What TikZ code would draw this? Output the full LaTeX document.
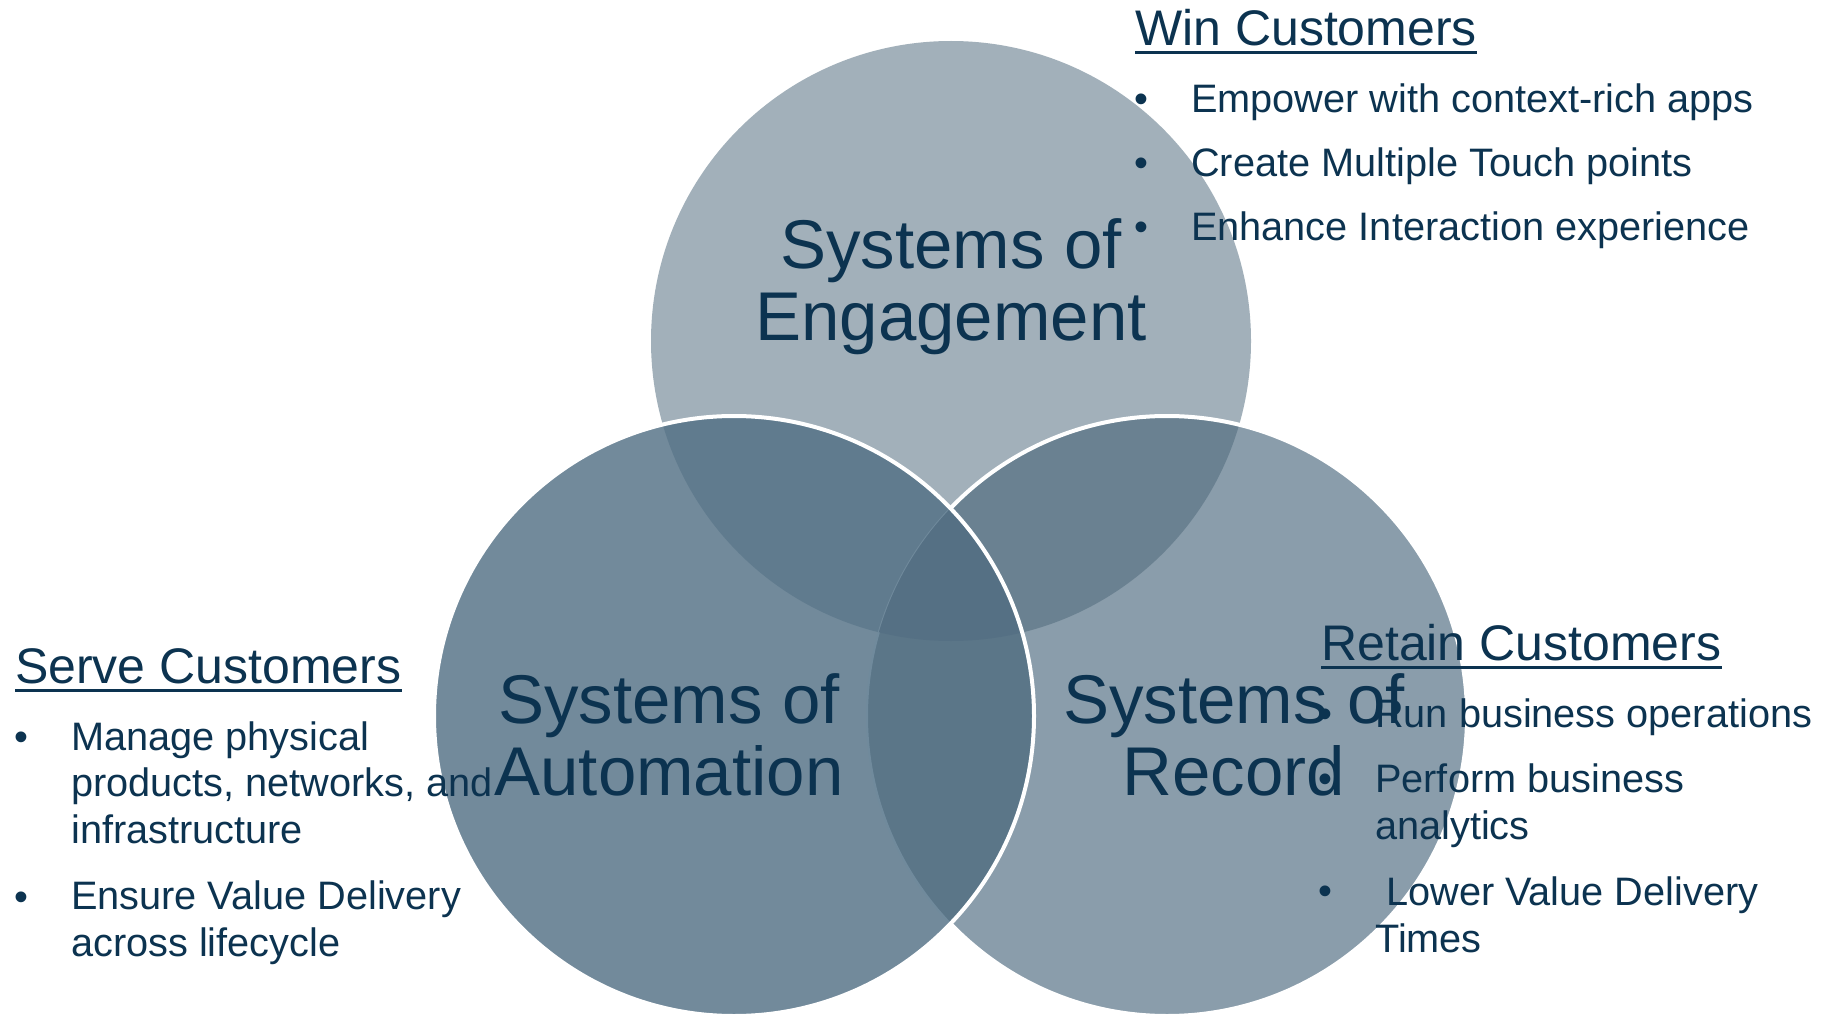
\documentclass[tikz,border=0pt]{standalone}
\usepackage{fontspec}
\setmainfont{Liberation Sans}

\definecolor{ink}{RGB}{12,51,80}
\definecolor{engage}{RGB}{162,176,186}
\definecolor{autom}{RGB}{114,138,155}
\definecolor{record}{RGB}{138,157,171}
\definecolor{engauto}{RGB}{96,123,142}
\definecolor{engrec}{RGB}{106,129,145}
\definecolor{autorec}{RGB}{91,118,136}
\definecolor{allthree}{RGB}{85,112,132}
\definecolor{seam}{RGB}{112,138,156}

\tikzset{
  sys/.style={font=\fontsize{69}{72}\selectfont, text=ink, align=center,
              inner sep=0pt, anchor=base},
  head/.style={font=\fontsize{50}{56}\selectfont, text=ink, inner sep=0pt,
               anchor=base west},
  item/.style={font=\fontsize{39.7}{46.5}\selectfont, text=ink, inner sep=0pt,
               anchor=base west, align=left},
  bulletdot/.style={font=\fontsize{39.7}{46.5}\selectfont, text=ink,
                    inner sep=0pt, anchor=base},
  rim/.style={draw=white, line width=4pt},
  uline/.style={draw=ink, line width=3pt}
}

\begin{document}
\begin{tikzpicture}[x=1pt,y=-1pt]
    \fill[white] (0,0) rectangle (1824,1014);
    \useasboundingbox (0,0) rectangle (1824,1014);

    % the three circles
    \coordinate (E) at (951,341);
    \coordinate (A) at (734,716);
    \coordinate (R) at (1167,716);
    \def\rad{300}

    \fill[engage] (E) circle (\rad);
    \fill[record] (R) circle (\rad);
    \begin{scope}
    \clip (E) circle (\rad);
    \fill[engrec] (R) circle (\rad);
    \end{scope}
    \draw[rim] (R) circle (\rad);

    \fill[autom] (A) circle (\rad);
    \begin{scope}
    \clip (A) circle (\rad);
    \fill[engauto] (E) circle (\rad);
    \fill[autorec] (R) circle (\rad);
    \draw[seam, line width=2pt] (R) circle (\rad);
    \clip (E) circle (\rad);
    \fill[allthree] (R) circle (\rad);
    \end{scope}
    \draw[rim] (A) circle (\rad);

    \node[sys] (engagement) at (951,340) {Systems of\\Engagement};
    \node[sys] (automation) at (669,795) {Systems of\\Automation};
    \node[sys] (record) at (1234,795) {Systems of\\Record};

    % win
    \node[head] (win) at (1135,46) {Win Customers};
    \draw[uline] ([yshift=-7pt]win.base west) -- ([yshift=-7pt]win.base east);
    \foreach \y/\t [count=\i] in {113/Empower with context-rich apps,
                                  176/Create Multiple Touch points,
                                  240/Enhance Interaction experience} {
      \node[bulletdot] (win-dot-\i) at (1141,\y) {•};
      \node[item] (win-item-\i) at (1191,\y) {\t};
    }

    % serve
    \node[head] (serve) at (15,683) {Serve Customers};
    \draw[uline] ([yshift=-7pt]serve.base west) -- ([yshift=-7pt]serve.base east);
    \node[bulletdot] (serve-dot-1) at (21,750) {•};
    \node[item] (serve-item-1) at (71,843)
      {Manage physical\\products, networks, and\\infrastructure};
    \node[bulletdot] (serve-dot-2) at (21,910) {•};
    \node[item] (serve-item-2) at (71,956) {Ensure Value Delivery\\across lifecycle};

    % retain
    \node[head] (retain) at (1321,660) {Retain Customers};
    \draw[uline] ([yshift=-7pt]retain.base west) -- ([yshift=-7pt]retain.base east);
    \node[bulletdot] (retain-dot-1) at (1325,727) {•};
    \node[item] (retain-item-1) at (1375,727) {Run business operations};
    \node[bulletdot] (retain-dot-2) at (1325,792) {•};
    \node[item] (retain-item-2) at (1375,839) {Perform business\\analytics};
    \node[bulletdot] (retain-dot-3) at (1325,904) {•};
    \node[item] (retain-item-3) at (1375,952) {\ Lower Value Delivery\\Times};
\end{tikzpicture}
\end{document}
